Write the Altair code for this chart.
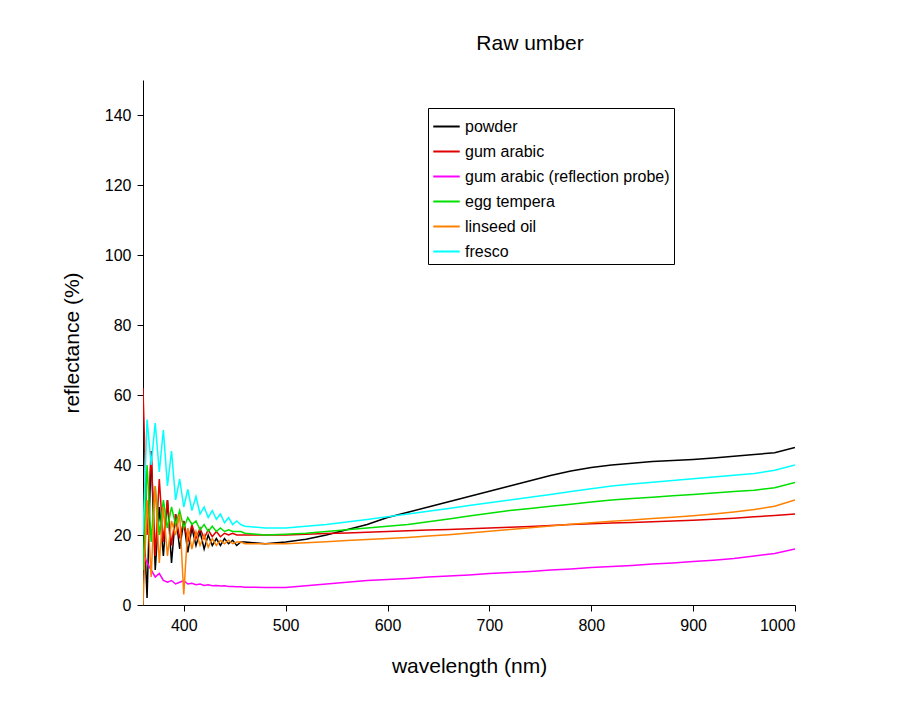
import altair as alt
import pandas as pd

# wavelength grid: dense in the noisy blue end, sparse afterwards
wl_noisy = list(range(360, 464, 4))  # 26 points
wl_smooth = list(range(480, 1001, 20))  # 27 points
wavelength = wl_noisy + wl_smooth

powder = [30, 2, 44, 10, 28, 14, 30, 12, 26, 16, 24, 15, 22, 17, 21, 16, 20, 17, 19, 17, 19, 17.5, 18.5, 17, 18, 18,
          17.5, 18, 18.8, 20, 21.5, 23, 25, 26.5, 28, 29.5, 31, 32.5, 34, 35.5, 37, 38.3, 39.3, 40, 40.5, 41, 41.3, 41.6, 42, 42.5, 43, 43.5, 45]
gum_arabic = [62, 20, 44, 14, 36, 18, 30, 17, 26, 19, 24, 18, 23, 19, 22, 19, 21.5, 19.5, 21, 19.5, 20.5, 20, 20.5, 20, 20, 20,
              20, 20, 20.2, 20.4, 20.6, 20.8, 21, 21.2, 21.4, 21.6, 21.8, 22, 22.2, 22.4, 22.7, 23, 23.2, 23.4, 23.6, 23.8, 24, 24.2, 24.5, 24.8, 25.2, 25.6, 26]
gum_arabic_probe = [15, 12, 10, 8, 9, 7, 6.5, 7, 6, 6.5, 7, 6, 6.2, 5.8, 6, 5.6, 5.8, 5.5, 5.6, 5.4, 5.5, 5.3, 5.3, 5.2, 5.2, 5.1,
                    5, 5, 5.5, 6, 6.5, 7, 7.3, 7.6, 8, 8.3, 8.6, 9, 9.3, 9.6, 10, 10.3, 10.7, 11, 11.3, 11.7, 12, 12.4, 12.8, 13.3, 14, 14.7, 16]
egg_tempera = [10, 40, 18, 34, 20, 30, 22, 28, 23, 27, 22, 25, 23, 24, 21.5, 23, 21, 22.5, 21, 22, 21, 21.5, 21, 21, 21, 20.5,
               20, 20.2, 20.5, 21, 21.5, 22, 22.5, 23, 23.8, 24.6, 25.4, 26.2, 27, 27.6, 28.2, 28.8, 29.4, 30, 30.4, 30.8, 31.2, 31.6, 32, 32.4, 32.8, 33.5, 35]
linseed_oil = [0, 30, 8, 34, 12, 28, 14, 24, 20, 26, 3, 22, 16, 21, 17, 20, 16.5, 19, 17, 18.5, 17.5, 18.5, 17.5, 18, 18, 17.5,
               17.5, 17.5, 17.8, 18.1, 18.4, 18.7, 19, 19.3, 19.7, 20.1, 20.6, 21.1, 21.6, 22.1, 22.6, 23.1, 23.5, 23.9, 24.3, 24.7, 25.1, 25.5, 26, 26.6, 27.3, 28.2, 30]
fresco = [20, 53, 40, 52, 38, 50, 34, 44, 30, 36, 28, 33, 27, 31, 26, 28, 25, 27, 24.5, 26, 23.5, 25, 23, 24, 23, 22.5,
          22, 22, 22.5, 23, 23.7, 24.4, 25.2, 26, 26.8, 27.6, 28.4, 29.2, 30, 30.8, 31.6, 32.4, 33.2, 34, 34.6, 35.1, 35.6, 36.1, 36.6, 37.1, 37.6, 38.5, 40]

series = {
    'powder': powder,
    'gum arabic': gum_arabic,
    'gum arabic (reflection probe)': gum_arabic_probe,
    'egg tempera': egg_tempera,
    'linseed oil': linseed_oil,
    'fresco': fresco,
}
colors = ['#000000', '#e00000', '#ff00ff', '#00e000', '#ff8000', '#00ffff']

rows = []
for name, vals in series.items():
    for w, v in zip(wavelength, vals):
        rows.append({'wavelength': w, 'reflectance': v, 'sample': name})
df = pd.DataFrame(rows)

chart = alt.Chart(df).mark_line(strokeWidth=1.5, clip=True).encode(
    x=alt.X('wavelength:Q', title='wavelength (nm)',
            scale=alt.Scale(domain=[360, 1000], nice=False),
            axis=alt.Axis(values=[400, 500, 600, 700, 800, 900, 1000], format='d', grid=False, tickSize=6,
                          labelFontSize=16, titleFontSize=21, titleFontWeight='normal',
                          titlePadding=22, labelPadding=6, domainColor='black', tickColor='black',
                          labelColor='black', titleColor='black', labelFont='Arial', titleFont='Arial')),
    y=alt.Y('reflectance:Q', title='reflectance (%)',
            scale=alt.Scale(domain=[0, 150], nice=False),
            axis=alt.Axis(values=[0, 20, 40, 60, 80, 100, 120, 140], grid=False, tickSize=6,
                          labelFontSize=16, titleFontSize=21, titleFontWeight='normal',
                          titlePadding=22, labelPadding=6, domainColor='black', tickColor='black',
                          labelColor='black', titleColor='black', labelFont='Arial', titleFont='Arial')),
    color=alt.Color('sample:N', sort=list(series.keys()),
                    scale=alt.Scale(domain=list(series.keys()), range=colors),
                    legend=alt.Legend(title=None, orient='none', legendX=285, legendY=28,
                                      symbolType='stroke', symbolSize=700, symbolStrokeWidth=2,
                                      labelFontSize=16, labelFont='Arial', labelColor='black',
                                      strokeColor='black', padding=4, rowPadding=2,
                                      labelLimit=400, fillColor='white')),
).properties(
    width=652, height=525,
    title=alt.Title('Raw umber', fontSize=21, fontWeight='normal', font='Arial', offset=26, dx=61),
    autosize=alt.AutoSizeParams(type='none'),
    padding={'left': 135, 'top': 72, 'right': 110, 'bottom': 100},
    background='white',
).configure_view(stroke=None)

chart.save("out.html", embed_options={"renderer": "svg", "actions": False})
